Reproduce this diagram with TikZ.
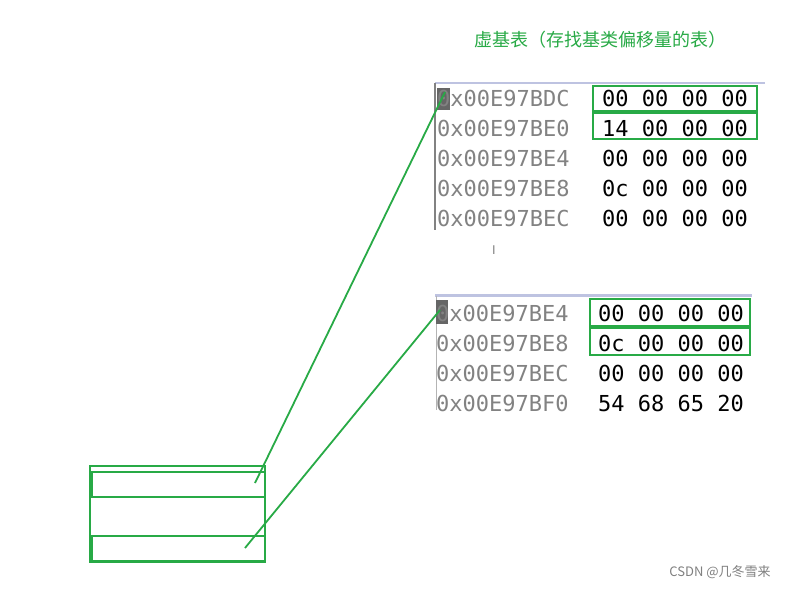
\documentclass[tikz,border=0pt]{standalone}
\usepackage{fontspec}
\setmainfont{DejaVu Sans}
\newfontfamily\cjk{Noto Sans CJK SC}
\newfontfamily\mono{DejaVu Sans Mono}
\definecolor{gr}{RGB}{40,170,70}
\definecolor{addr}{RGB}{130,130,130}
\definecolor{sel}{RGB}{190,195,225}
\tikzset{
  hx/.style={font=\mono\fontsize{22}{22}\selectfont, anchor=west, inner sep=0pt},
  ad/.style={hx, text=addr},
  da/.style={hx, text=black},
  gbox/.style={draw=gr, line width=2.2pt},
  gline/.style={draw=gr, line width=1.8pt}
}
\begin{document}
\begin{tikzpicture}[x=1pt,y=-1pt]
\useasboundingbox[fill=white] (0,0) rectangle (807,591);
\node[text=gr, font=\cjk\fontsize{18}{18}\selectfont] (title) at (600,40) {虚基表（存找基类偏移量的表）};
% top table
\draw[sel, line width=2pt] (435,83) -- (765,83);
\draw[addr, line width=1.2pt] (435,83) -- (435,230);
\fill[gray!80!black] (437,88) rectangle (450,110);
\foreach \a/\d [count=\i] in {0x00E97BDC/00 00 00 00,0x00E97BE0/14 00 00 00,0x00E97BE4/00 00 00 00,0x00E97BE8/0c 00 00 00,0x00E97BEC/00 00 00 00}{
  \node[ad] (ta\i) at (437,{68+30*\i}) {\a};
  \node[da] (td\i) at (602,{68+30*\i}) {\d};
}
\draw[gbox] (593,86) rectangle (757,111);
\draw[gbox] (593,113) rectangle (757,139);
\node[text=addr, font=\fontsize{12}{12}\selectfont] (cur) at (494,250) {I};
% bottom table
\draw[sel, line width=3pt] (435,296) -- (752,296);
\draw[addr!60, line width=1pt] (436,296) -- (436,410);
\fill[gray!80!black] (436,300) rectangle (448,324);
\foreach \a/\d [count=\i] in {0x00E97BE4/00 00 00 00,0x00E97BE8/0c 00 00 00,0x00E97BEC/00 00 00 00,0x00E97BF0/54 68 65 20}{
  \node[ad] (ba\i) at (436,{283+30*\i}) {\a};
  \node[da] (bd\i) at (598,{283+30*\i}) {\d};
}
\draw[gbox] (590,299) rectangle (750,326);
\draw[gbox] (590,328) rectangle (750,355);
% left object
\draw[gbox] (90,466) rectangle (265,562);
\draw[gbox] (92,472) rectangle (265,497);
\draw[gbox] (92,536) rectangle (265,561);
\coordinate (s1) at (255,483);
\coordinate (s2) at (245,548);
\coordinate (e1) at (445,92);
\coordinate (e2) at (440,310);
\draw[gline] (s1) -- (e1);
\draw[gline] (s2) -- (e2);
\node[text=gray, font=\cjk\fontsize{13}{13}\selectfont] (wm) at (720,572) {CSDN @几冬雪来};
\end{tikzpicture}
\end{document}
